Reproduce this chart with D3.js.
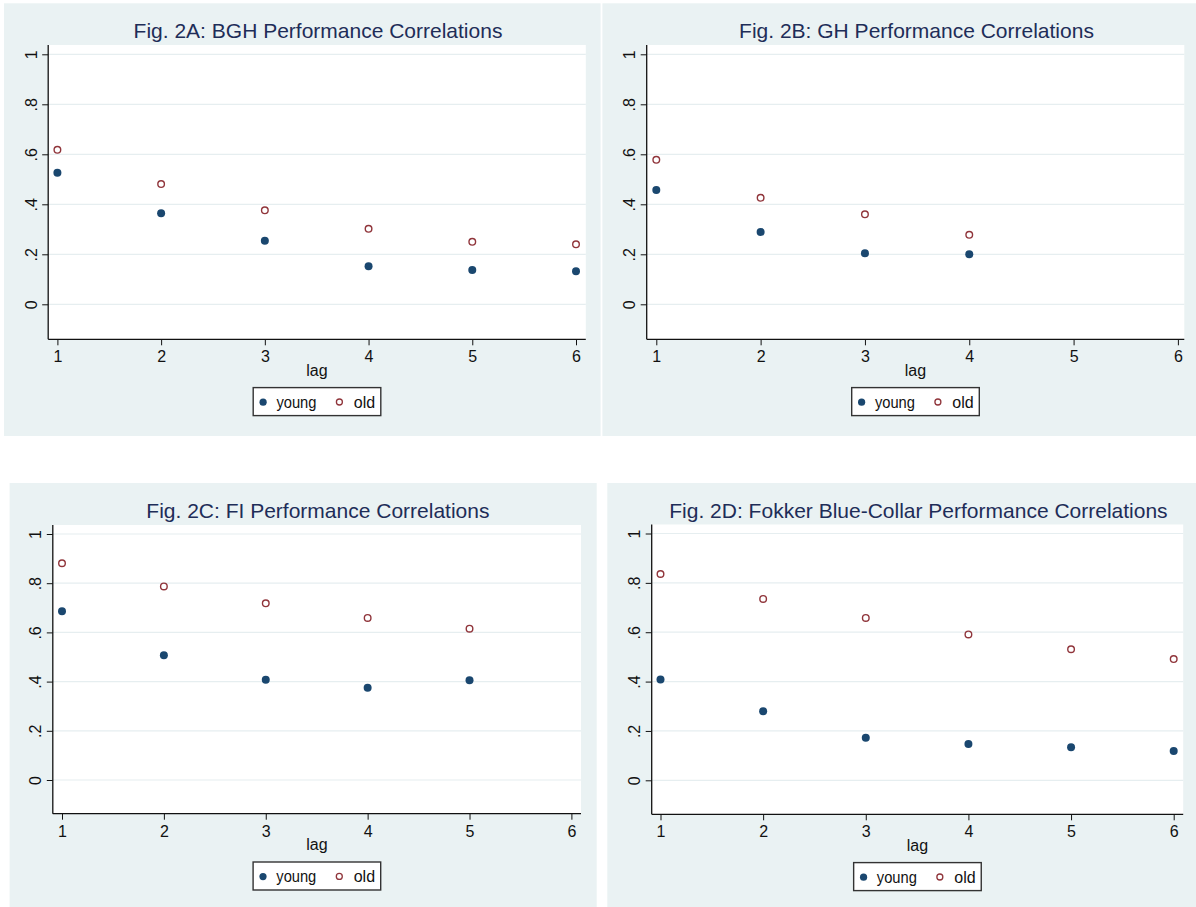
<!DOCTYPE html>
<html>
<head>
<meta charset="utf-8">
<script src="https://cdn.jsdelivr.net/npm/d3@7"></script>
<style>
  html, body { margin: 0; padding: 0; background: #ffffff; }
  svg { display: block; }
  text { font-family: "Liberation Sans", Arial, sans-serif; }
</style>
</head>
<body>
<svg id="chart" width="1196" height="907"></svg>
<script>
// ---------- data ----------
const lagTicks = [1, 2, 3, 4, 5, 6];
const yTicks = [0, 0.2, 0.4, 0.6, 0.8, 1];
const yTickLabels = ["0", ".2", ".4", ".6", ".8", "1"];
const xLabel = "lag";
const seriesNames = ["young", "old"];
const titles = [
  "Fig. 2A: BGH Performance Correlations",
  "Fig. 2B: GH Performance Correlations",
  "Fig. 2C: FI Performance Correlations",
  "Fig. 2D: Fokker Blue-Collar Performance Correlations"
];

const lagsA = [1, 2, 3, 4, 5, 6];
const youngA = [0.526, 0.364, 0.254, 0.152, 0.137, 0.132];
const oldA   = [0.618, 0.481, 0.376, 0.302, 0.250, 0.240];

const lagsB = [1, 2, 3, 4];
const youngB = [0.457, 0.289, 0.204, 0.200];
const oldB   = [0.578, 0.426, 0.360, 0.278];

const lagsC = [1, 2, 3, 4, 5];
const youngC = [0.686, 0.507, 0.408, 0.375, 0.405];
const oldC   = [0.881, 0.787, 0.718, 0.659, 0.615];

const lagsD = [1, 2, 3, 4, 5, 6];
const youngD = [0.408, 0.280, 0.172, 0.147, 0.134, 0.119];
const oldD   = [0.836, 0.735, 0.658, 0.591, 0.531, 0.491];

// ---------- styles / layout ----------
const COLORS = { bg: "#eaf2f3", young: "#1a476f", old: "#90353b", title: "#1e2d58", grid: "#e6eef0", axis: "#111111" };
const FS = { title: 21, tick: 16, label: 16, legend: 16 };

const panels = [
  { title: titles[0], lags: lagsA, young: youngA, old: oldA,
    bg: [4, 3.3, 600.6, 436], plot: [48.2, 45, 585.8, 339.3], x1: 57.4, x6: 576, y0: 304.3, y1: 54.3, titleY: 38 },
  { title: titles[1], lags: lagsB, young: youngB, old: oldB,
    bg: [602.4, 3.3, 1196, 436], plot: [646.7, 45, 1184.3, 339.3], x1: 656.3, x6: 1177.9, y0: 304.3, y1: 54.3, titleY: 38 },
  { title: titles[2], lags: lagsC, young: youngC, old: oldC,
    bg: [9.6, 483, 596.7, 907], plot: [52.8, 525, 581, 813.7], x1: 62, x6: 571.4, y0: 780, y1: 534, titleY: 518.3 },
  { title: titles[3], lags: lagsD, young: youngD, old: oldD,
    bg: [607.3, 483, 1196, 907], plot: [651.7, 524.5, 1183.2, 814.3], x1: 660.5, x6: 1173.7, y0: 780.3, y1: 533.5, titleY: 518.3 }
];

const svg = d3.select("#chart");

panels.forEach(p => {
  const g = svg.append("g");
  const [bx0, by0, bx1, by1] = p.bg;
  const [px0, py0, px1, py1] = p.plot;
  const cx = (px0 + px1) / 2;

  g.append("rect").attr("x", bx0).attr("y", by0).attr("width", bx1 - bx0).attr("height", by1 - by0)
    .attr("fill", COLORS.bg);
  g.append("rect").attr("x", px0).attr("y", py0).attr("width", px1 - px0).attr("height", py1 - py0)
    .attr("fill", "#ffffff");

  const x = d3.scaleLinear().domain([1, 6]).range([p.x1, p.x6]);
  const y = d3.scaleLinear().domain([0, 1]).range([p.y0, p.y1]);

  // grid lines
  g.append("g").selectAll("line").data(yTicks).join("line")
    .attr("x1", px0).attr("x2", px1)
    .attr("y1", d => y(d)).attr("y2", d => y(d))
    .attr("stroke", COLORS.grid).attr("stroke-width", 1.2);

  // title
  g.append("text").attr("x", cx + 1).attr("y", p.titleY).attr("text-anchor", "middle")
    .attr("font-size", FS.title).attr("fill", COLORS.title).text(p.title);

  // y axis
  const yAxis = d3.axisLeft(y).tickValues(yTicks).tickSize(6).tickPadding(0)
    .tickFormat((d, i) => yTickLabels[i]);
  const ya = g.append("g").attr("transform", `translate(${px0},0)`).call(yAxis);
  ya.select(".domain").remove();
  ya.selectAll(".tick line").attr("stroke", COLORS.axis).attr("stroke-width", 1);
  ya.selectAll(".tick text")
    .attr("font-size", FS.tick).attr("fill", "#111").attr("font-family", "Liberation Sans, Arial, sans-serif")
    .attr("x", null).attr("dy", null)
    .attr("text-anchor", "middle")
    .attr("transform", "translate(-11.6,0) rotate(-90)");
  g.append("line").attr("x1", px0).attr("x2", px0).attr("y1", py0).attr("y2", py1)
    .attr("stroke", COLORS.axis).attr("stroke-width", 1.3);

  // x axis
  const xAxis = d3.axisBottom(x).tickValues(lagTicks).tickSize(6).tickPadding(4)
    .tickFormat(d3.format("d"));
  const xa = g.append("g").attr("transform", `translate(0,${py1})`).call(xAxis);
  xa.select(".domain").remove();
  xa.selectAll(".tick line").attr("stroke", COLORS.axis).attr("stroke-width", 1);
  xa.selectAll(".tick text").attr("font-size", FS.tick).attr("fill", "#111")
    .attr("font-family", "Liberation Sans, Arial, sans-serif")
    .attr("dy", null).attr("y", 23);
  g.append("line").attr("x1", px0).attr("x2", px1).attr("y1", py1).attr("y2", py1)
    .attr("stroke", COLORS.axis).attr("stroke-width", 1.3);

  g.append("text").attr("x", cx).attr("y", py1 + 36.5).attr("text-anchor", "middle")
    .attr("font-size", FS.label).attr("fill", "#111").text(xLabel);

  // points
  const young = p.lags.map((l, i) => ({ lag: l, v: p.young[i] }));
  const old = p.lags.map((l, i) => ({ lag: l, v: p.old[i] }));
  g.append("g").selectAll("circle").data(old).join("circle")
    .attr("cx", d => x(d.lag)).attr("cy", d => y(d.v)).attr("r", 3.3)
    .attr("fill", "none").attr("stroke", COLORS.old).attr("stroke-width", 1.4);
  g.append("g").selectAll("circle").data(young).join("circle")
    .attr("cx", d => x(d.lag)).attr("cy", d => y(d.v)).attr("r", 4)
    .attr("fill", COLORS.young);

  // legend
  const lw = 127.6, lh = 28;
  const lx = cx - lw / 2, ly = py1 + 48.3;
  const lg = g.append("g").attr("transform", `translate(${lx},${ly})`);
  lg.append("rect").attr("x", 0).attr("y", 0).attr("width", lw).attr("height", lh)
    .attr("fill", "#ffffff").attr("stroke", "#333333").attr("stroke-width", 1.4);
  lg.append("circle").attr("cx", 9.9).attr("cy", 14.6).attr("r", 3.6).attr("fill", COLORS.young);
  lg.append("text").attr("x", 23.2).attr("y", 20.2).attr("font-size", FS.legend).attr("fill", "#111")
    .attr("textLength", 40).attr("lengthAdjust", "spacingAndGlyphs").text(seriesNames[0]);
  lg.append("circle").attr("cx", 86.2).attr("cy", 14.4).attr("r", 3).attr("fill", "none")
    .attr("stroke", COLORS.old).attr("stroke-width", 1.3);
  lg.append("text").attr("x", 100.6).attr("y", 20.2).attr("font-size", FS.legend).attr("fill", "#111").text(seriesNames[1]);
});
</script>
</body>
</html>
